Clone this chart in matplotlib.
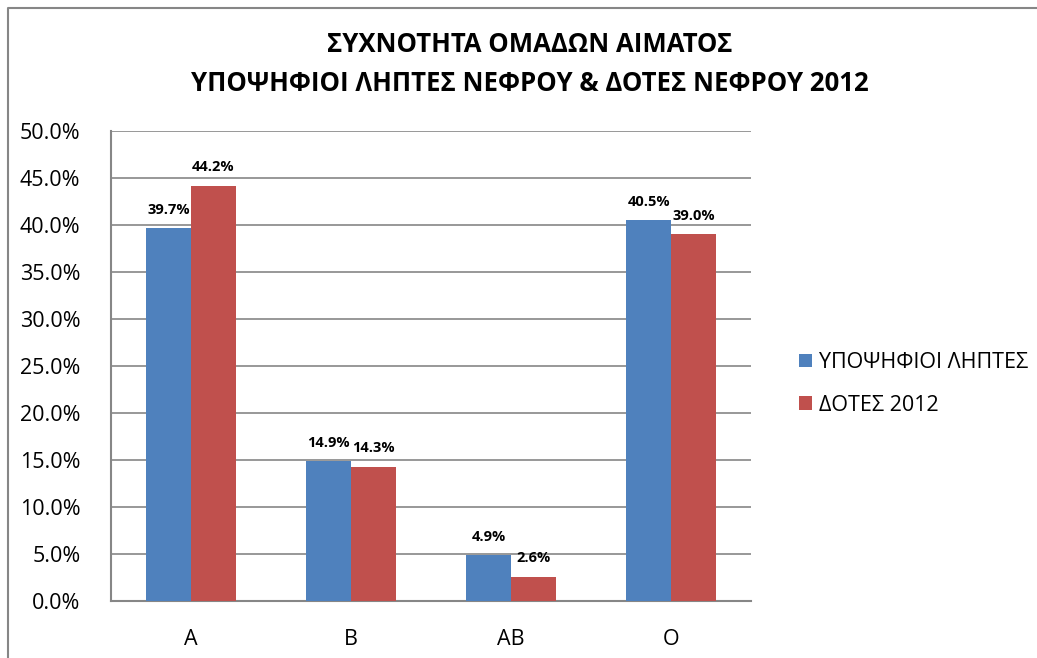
import numpy as np
import matplotlib.pyplot as plt
from matplotlib.lines import Line2D
from matplotlib.ticker import FuncFormatter

# データ
categories = ["A", "B", "AB", "O"]
recipients = [39.7, 14.9, 4.9, 40.5]
donors = [44.2, 14.3, 2.6, 39.0]
series_names = ["ΥΠΟΨΗΦΙΟΙ ΛΗΠΤΕΣ", "ΔΟΤΕΣ 2012"]
title = "ΣΥΧΝΟΤΗΤΑ ΟΜΑΔΩΝ ΑΙΜΑΤΟΣ\nΥΠΟΨΗΦΙΟΙ ΛΗΠΤΕΣ ΝΕΦΡΟΥ & ΔΟΤΕΣ ΝΕΦΡΟΥ 2012"

def main():
    plt.rcParams['font.family'] = ['Open Sans', 'DejaVu Sans']
    W, H = 1037, 658
    fig = plt.figure(figsize=(W / 100, H / 100), dpi=100)
    ax = fig.add_axes([111 / W, 1 - 601 / H, (751 - 111) / W, (601 - 131) / H])

    x = np.arange(len(categories))
    w = 0.28
    b1 = ax.bar(x - w / 2, recipients, w, color="#4F81BD", label=series_names[0], zorder=3)
    b2 = ax.bar(x + w / 2, donors, w, color="#C0504D", label=series_names[1], zorder=3)

    for bars, vals in ((b1, recipients), (b2, donors)):
        for r, v in zip(bars, vals):
            ax.annotate(f"{v:.1f}%", (r.get_x() + r.get_width() / 2, v),
                        xytext=(0, 8), textcoords="offset points",
                        ha="center", va="bottom", fontsize=10.5, fontweight="bold")

    ax.set_xlim(-0.5, 3.5)
    ax.set_ylim(0, 50)
    ax.set_yticks(np.arange(0, 50.1, 5))
    ax.yaxis.set_major_formatter(FuncFormatter(lambda v, p: f"{v:.1f}%"))
    ax.set_xticks(x)
    ax.set_xticklabels(categories)
    ax.tick_params(axis="both", length=0, labelsize=15.5)
    ax.tick_params(axis="y", pad=22)
    ax.tick_params(axis="x", pad=20)
    ax.grid(axis="y", color="#868686", lw=1.2, zorder=0)
    for s in ("top", "right"):
        ax.spines[s].set_visible(False)
    for s in ("left", "bottom"):
        ax.spines[s].set_color("#868686")
        ax.spines[s].set_linewidth(1.5)

    fig.text(530 / W, 1 - 64 / H, title, ha="center", va="center",
             fontsize=18.5, fontweight="bold", linespacing=1.6)

    ax.legend(loc="center left", bbox_to_anchor=(780 / W, 1 - 384 / H),
              bbox_transform=fig.transFigure, frameon=False, fontsize=15.5,
              handlelength=0.6, handleheight=0.6, handletextpad=0.3,
              labelspacing=1.0)

    # 外枠 (左と上のみ)
    x0, y0 = 8 / W, 1 - 8 / H
    fig.lines.append(Line2D([x0, x0, 1], [0, y0, y0], transform=fig.transFigure,
                            color="#868686", lw=1.5))

    fig.savefig("out.png", dpi=100)

if __name__ == '__main__':
    main()
